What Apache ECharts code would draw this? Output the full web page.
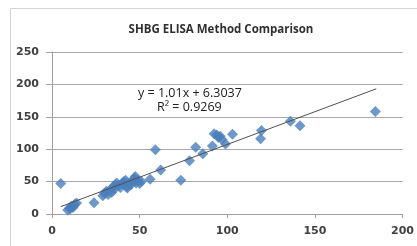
<!DOCTYPE html>
<html>
<head>
<meta charset="utf-8">
<script src="https://cdn.jsdelivr.net/npm/echarts@6/dist/echarts.min.js"></script>
<style>
  html, body { margin: 0; padding: 0; background: #fff; }
  #chart { width: 417px; height: 246px; }
</style>
</head>
<body>
<div id="chart"></div>
<script>
// readings
const methodA = [5, 9, 10, 10.5, 11, 12, 12.5, 13, 14, 24, 29, 30, 31, 32, 33, 34, 35, 35.5, 36, 37, 38, 39, 40, 41, 42, 42.5, 43, 44, 45, 46, 47, 47.5, 48, 49, 50, 51, 56, 59, 62, 73.5, 78.5, 82, 86, 91.5, 92.5, 94, 95, 96, 97, 99, 103, 119, 119.5, 136, 141.5, 184.5];
const methodB = [47, 6, 9, 8, 12, 10, 13, 15, 17, 17.5, 28, 32, 35, 30, 37, 33, 42, 38, 45, 48, 44, 41, 47, 50, 52, 42, 40, 48, 45, 50, 55, 58, 48, 52, 47, 50, 53.5, 99, 68, 52, 82, 103, 93, 105, 124, 122, 118, 120, 115, 108, 123, 116, 129, 143, 136, 158];
const trendX = [5, 185];
const trendY = [11.4, 193.2];
const equation = "y = 1.01x + 6.3037";
const rSquared = "R² = 0.9269";

const chart = echarts.init(document.getElementById("chart"));
const labelFont = { color: "#404040", fontSize: 11, fontWeight: "bold", fontFamily: "DejaVu Sans" };

const option = {
  animation: false,
  title: {
    text: "SHBG ELISA Method Comparison",
    left: 216,
    top: 19,
    textAlign: "center",
    textStyle: { color: "#303030", fontSize: 11.5, fontWeight: "bold", fontFamily: "Open Sans" }
  },
  grid: { left: 52, right: 14, top: 52, bottom: 32 },
  xAxis: {
    type: "value",
    min: 0, max: 200, interval: 50,
    axisLine: { lineStyle: { color: "#a0a0a0" } },
    axisTick: { show: true, length: 4, lineStyle: { color: "#a0a0a0" } },
    axisLabel: Object.assign({ margin: 12 }, labelFont),
    splitLine: { show: false }
  },
  yAxis: {
    type: "value",
    min: 0, max: 250, interval: 50,
    axisLine: { show: true, lineStyle: { color: "#a0a0a0" } },
    axisTick: { show: true, length: 6, lineStyle: { color: "#a0a0a0" } },
    axisLabel: Object.assign({ margin: 13 }, labelFont),
    splitLine: { lineStyle: { color: "#a8a8a8" } }
  },
  graphic: [
    { type: "rect", shape: { x: 10.5, y: 8.5, width: 430, height: 260 },
      style: { fill: "none", stroke: "#d4d4d4", lineWidth: 1 }, silent: true },
    { type: "text", left: 138, top: 87, style: { text: equation, fill: "#202020", font: "12.5px 'Open Sans'" } },
    { type: "text", left: 157, top: 101, style: { text: rSquared, fill: "#202020", font: "12.5px 'Open Sans'" } }
  ],
  series: [
    {
      type: "scatter",
      symbol: "diamond",
      symbolSize: 11,
      itemStyle: { color: "#4a7ebb" },
      data: methodA.map((x, i) => [x, methodB[i]])
    },
    {
      type: "line",
      symbol: "none",
      lineStyle: { color: "#505050", width: 1 },
      data: trendX.map((x, i) => [x, trendY[i]]),
      z: 3
    }
  ]
};
chart.setOption(option);
</script>
</body>
</html>
